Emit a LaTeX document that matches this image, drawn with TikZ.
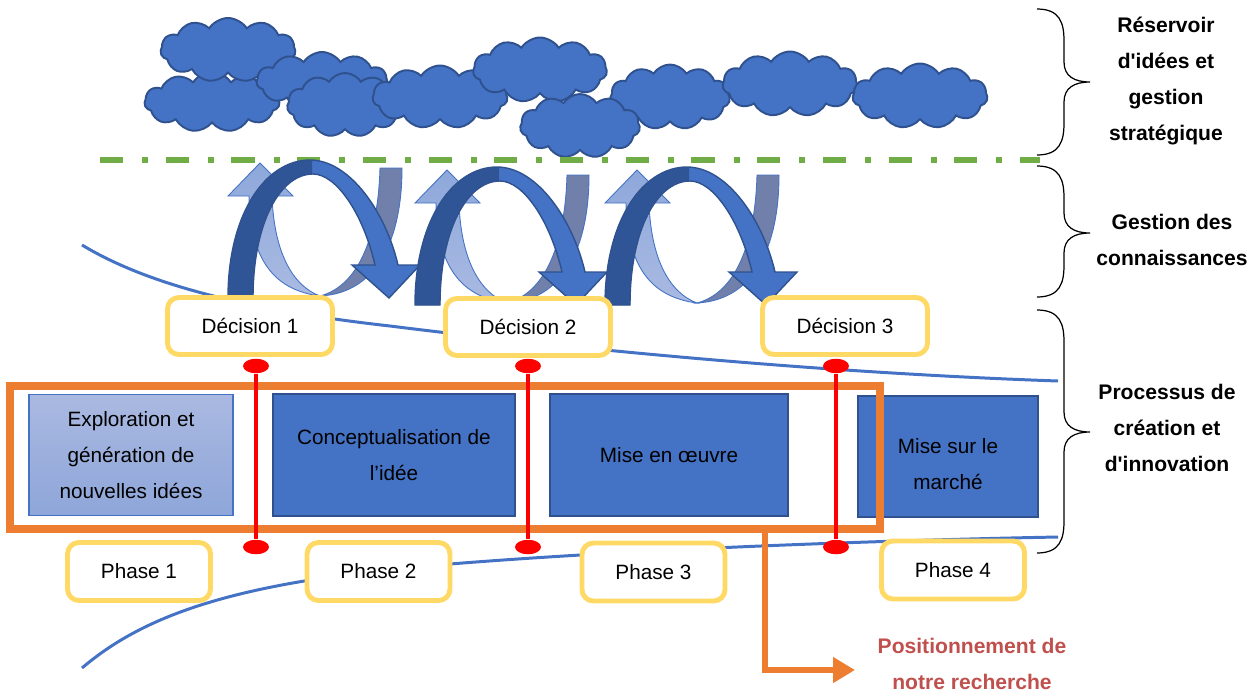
\documentclass[tikz,border=0pt]{standalone}
\usepackage{fontspec}
\setmainfont{Liberation Sans}
\usepackage{tikz}
\usetikzlibrary{arrows.meta,shapes.symbols,shapes.geometric}

\definecolor{cloudblue}{HTML}{4472C4}
\definecolor{cloudedge}{HTML}{2F528F}
\definecolor{dashgreen}{HTML}{70AD47}
\definecolor{boxyellow}{HTML}{FFD966}
\definecolor{frameorange}{HTML}{ED7D31}
\definecolor{arcdark}{HTML}{2F5597}
\definecolor{backgrey}{HTML}{7080AA}
\definecolor{backlightA}{HTML}{8EA8DB}
\definecolor{backlightB}{HTML}{A9BAE2}
\definecolor{paleA}{HTML}{AAB9E1}
\definecolor{paleB}{HTML}{8EA6D9}
\definecolor{posred}{HTML}{C0504D}

% front part of one knowledge loop (pixel units, y downwards)
\newcommand{\arcpath}{(0,0) .. controls (0,-85) and (38,-138) .. (82,-138)
    .. controls (122,-138) and (158,-85) .. (170,-33) -- (192,-33) -- (161,0)
    -- (124,-33) -- (147,-33) .. controls (135,-85) and (108,-124) .. (85,-124)
    .. controls (52,-124) and (25,-75) .. (25,0) -- cycle}

% right brace: top, tip, bottom
\newcommand{\sidebrace}[3]{%
    \draw[line width=0.7pt] (1037,#1) .. controls (1060,#1) and (1064,#1+14) .. (1064,#1+32)
        -- (1064,#2-20) .. controls (1064,#2-6) and (1074,#2) .. (1090,#2)
        .. controls (1074,#2) and (1064,#2+6) .. (1064,#2+20)
        -- (1064,#3-32) .. controls (1064,#3-14) and (1060,#3) .. (1037,#3);}

\begin{document}
\begin{tikzpicture}[x=0.02cm, y=-0.02cm,
        cloudy/.style={cloud, cloud puffs=11, cloud puff arc=115, cloud ignores aspect,
            draw=cloudedge, fill=cloudblue, line width=1.1pt, inner sep=0pt},
        decision/.style={draw=boxyellow, fill=white, line width=2.8pt, rounded corners=6.5pt,
            minimum width=3.3cm, minimum height=1.14cm, font=\fontsize{11.8}{14}\selectfont},
        phasebox/.style={decision, minimum width=2.86cm, minimum height=1.16cm},
        stagebox/.style={draw=cloudedge, fill=cloudblue, line width=1.1pt, align=center,
            inner sep=0pt, font=\fontsize{11.8}{20.6}\selectfont},
        marker/.style={ellipse, fill=red, minimum width=0.52cm, minimum height=0.29cm, inner sep=0pt},
        redline/.style={red, line width=2.2pt},
        trend/.style={cloudblue, line width=1.7pt},
        focusbox/.style={draw=frameorange, line width=4.5pt, minimum width=17.41cm,
            minimum height=2.86cm, inner sep=0pt},
        posarrow/.style={frameorange, line width=3.9pt, -{Triangle[length=12.5pt,width=14pt]}},
        sidetext/.style={align=center, font=\bfseries\fontsize{12}{20.4}\selectfont},
        knowloop/.pic={
            % back band, grey
            \path[draw=cloudblue, line width=0.5pt, fill=backgrey]
                (92,-2) .. controls (130,-12) and (150,-60) .. (152,-130) -- (174,-130)
                .. controls (174,-60) and (150,-5) .. cycle;
            % back arrow going up
            \path[draw=cloudblue, line width=0.5pt, top color=backlightA, bottom color=backlightB]
                (92,-2) .. controls (65,-12) and (46,-45) .. (44,-102) -- (65,-102) -- (32,-135)
                -- (0,-102) -- (21,-102) .. controls (22,-40) and (45,-8) .. cycle;
            % front arc
            \fill[cloudblue] \arcpath;
            \begin{scope}
                \clip (-5,5) rectangle (84,-145);
                \fill[arcdark] \arcpath;
            \end{scope}
            \draw[cloudedge, line width=0.8pt] \arcpath;
        }
    ]
    \useasboundingbox (0,0) rectangle (1256,693);

    % trend curves
    \draw[trend] (82,245) .. controls (140,280) and (230,308) .. (390,326)
        .. controls (550,346) and (800,372) .. (1058,381);
    \draw[trend] (82,668) .. controls (150,610) and (250,580) .. (450,564)
        .. controls (650,548) and (900,540) .. (1058,537);

    % idea clouds
    \node[cloudy, minimum width=2.7cm, minimum height=1.2cm] (c2) at (212,102) {};
    \node[cloudy, minimum width=2.7cm, minimum height=1.28cm] (c1) at (228,50) {};
    \node[cloudy, minimum width=2.62cm, minimum height=1.16cm] (c3) at (322,81) {};
    \node[cloudy, minimum width=2.32cm, minimum height=1.28cm] (c4) at (345,105) {};
    \node[cloudy, minimum width=2.7cm, minimum height=1.26cm] (c5) at (440,97) {};
    \node[cloudy, minimum width=2.4cm, minimum height=1.3cm] (c8) at (670,97) {};
    \node[cloudy, minimum width=2.68cm, minimum height=1.3cm] (c6) at (540,70) {};
    \node[cloudy, minimum width=2.4cm, minimum height=1.28cm] (c7) at (580,126) {};
    \node[cloudy, minimum width=2.7cm, minimum height=1.3cm] (c9) at (790,84) {};
    \node[cloudy, minimum width=2.7cm, minimum height=1.3cm] (c10) at (920,96) {};

    % boundary of the idea reservoir
    \draw[dashgreen, line width=3.4pt, dash pattern=on 13.2pt off 10.8pt on 3.4pt off 10pt]
        (100,160) -- (1040,160);

    % knowledge loops
    \pic (loop1) at (228,298) {knowloop};
    \pic (loop2) at (415,305) {knowloop};
    \pic (loop3) at (605,305) {knowloop};

    % decisions
    \node[decision] (d1) at (250,326) {Décision 1};
    \node[decision] (d2) at (528,327) {Décision 2};
    \node[decision] (d3) at (845,326) {Décision 3};

    % stages of the process
    \node[stagebox, draw=cloudblue, line width=0.6pt, top color=paleA, bottom color=paleB,
        minimum width=4.08cm, minimum height=2.42cm] (s1) at (131,455)
        {Exploration et\\génération de\\nouvelles idées};
    \node[stagebox, minimum width=4.84cm, minimum height=2.44cm] (s2) at (394,455)
        {Conceptualisation de\\l’idée};
    \node[stagebox, minimum width=4.76cm, minimum height=2.44cm] (s3) at (669,455)
        {Mise en œuvre};
    \node[stagebox, minimum width=3.6cm, minimum height=2.42cm, text height=1.34cm]
        (s4) at (948,456.5) {Mise sur le\\marché};

    % research focus
    \node[focusbox] (focus) at (444.75,457.5) {};

    % decision markers
    \foreach \i/\mx in {1/256,2/528,3/836} {
        \node[marker] (m\i a) at (\mx,366) {};
        \node[marker] (m\i b) at (\mx,547) {};
        \draw[redline] (m\i a) -- (m\i b);
    }

    % phases
    \node[phasebox] (p1) at (139,571.5) {Phase 1};
    \node[phasebox] (p2) at (378.5,571.5) {Phase 2};
    \node[phasebox] (p3) at (653.5,572) {Phase 3};
    \node[phasebox] (p4) at (953,570) {Phase 4};

    % positioning arrow
    \node[align=center, inner sep=0pt, text=posred, font=\bfseries\fontsize{12}{21}\selectfont]
        (posi) at (972,664) {Positionnement de\\notre recherche};
    \coordinate (turn) at (765,670);
    \coordinate (tip) at (855,670);
    \draw[posarrow] (focus.south -| turn) -- (turn) -- (tip);

    % levels
    \sidebrace{9}{82}{155}
    \sidebrace{166}{233}{297}
    \sidebrace{310}{432}{553}
    \node[sidetext] (lvl1) at (1166,81)
        {Réservoir\\d\textquotesingle idées et\\gestion\\stratégique};
    \node[sidetext] (lvl2) at (1172,240) {Gestion des\\connaissances};
    \node[sidetext] (lvl3) at (1167,428) {Processus de\\création et\\d\textquotesingle innovation};
\end{tikzpicture}
\end{document}
